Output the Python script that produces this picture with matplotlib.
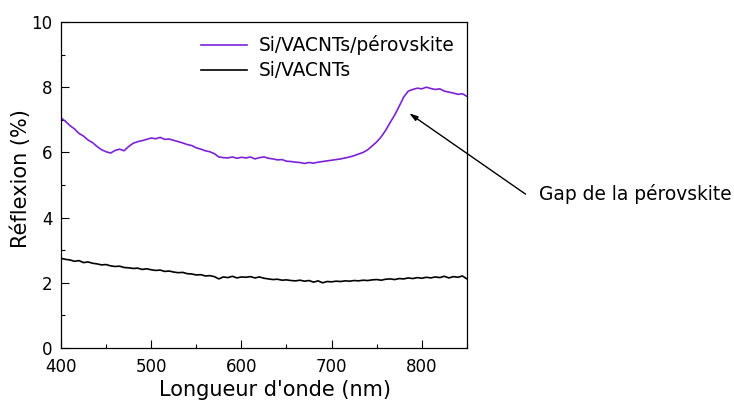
import matplotlib
matplotlib.use('Agg')
import matplotlib.pyplot as plt
import numpy as np
from matplotlib.ticker import MultipleLocator

# longueur d'onde (nm), pas de 5 nm
wl = np.arange(400, 851, 5)

# Si/VACNTs/pérovskite
refl_pero = [7.06, 6.95, 6.82, 6.72, 6.58, 6.50, 6.38, 6.30, 6.18, 6.08,
             6.02, 5.98, 6.06, 6.10, 6.05, 6.18, 6.28, 6.33, 6.36, 6.40,
             6.44, 6.42, 6.46, 6.40, 6.41, 6.37, 6.33, 6.29, 6.24, 6.21,
             6.14, 6.10, 6.05, 6.02, 5.96, 5.86, 5.84, 5.83, 5.86, 5.82,
             5.85, 5.83, 5.86, 5.80, 5.84, 5.86, 5.82, 5.80, 5.77, 5.78,
             5.73, 5.72, 5.70, 5.69, 5.66, 5.69, 5.67, 5.70, 5.72, 5.74,
             5.76, 5.78, 5.80, 5.83, 5.86, 5.90, 5.95, 6.00, 6.08, 6.20,
             6.32, 6.48, 6.68, 6.92, 7.15, 7.42, 7.70, 7.88, 7.93, 7.97,
             7.95, 8.00, 7.96, 7.93, 7.95, 7.88, 7.85, 7.82, 7.78, 7.80,
             7.72]

# Si/VACNTs
refl_cnt = [2.75, 2.72, 2.70, 2.66, 2.68, 2.62, 2.64, 2.60, 2.58, 2.55,
            2.56, 2.52, 2.50, 2.51, 2.47, 2.46, 2.44, 2.45, 2.41, 2.43,
            2.40, 2.38, 2.39, 2.35, 2.36, 2.33, 2.31, 2.32, 2.28, 2.27,
            2.24, 2.25, 2.21, 2.22, 2.19, 2.12, 2.18, 2.16, 2.20, 2.15,
            2.18, 2.17, 2.19, 2.15, 2.18, 2.14, 2.12, 2.10, 2.11, 2.08,
            2.09, 2.07, 2.06, 2.08, 2.05, 2.07, 2.02, 2.06, 2.00, 2.04,
            2.03, 2.05, 2.04, 2.06, 2.05, 2.07, 2.06, 2.08, 2.07, 2.09,
            2.10, 2.08, 2.11, 2.12, 2.10, 2.13, 2.12, 2.15, 2.13, 2.16,
            2.14, 2.17, 2.15, 2.18, 2.16, 2.20, 2.15, 2.19, 2.17, 2.21,
            2.12]

labels = ['Si/VACNTs/pérovskite', 'Si/VACNTs']

fig = plt.figure(figsize=(7.34, 4.05), dpi=100)
ax = fig.add_axes([0.0831, 0.1407, 0.553, 0.805])

ax.plot(wl, refl_pero, color='#7b22d8', lw=1.2, label=labels[0])
ax.plot(wl, refl_cnt, color='black', lw=1.2, label=labels[1])

ax.set_xlim(400, 850)
ax.set_ylim(0, 10)
ax.xaxis.set_major_locator(MultipleLocator(100))
ax.xaxis.set_minor_locator(MultipleLocator(50))
ax.yaxis.set_major_locator(MultipleLocator(2))
ax.yaxis.set_minor_locator(MultipleLocator(1))
ax.tick_params(which='both', direction='in', labelsize=12, width=0.8)
ax.tick_params(which='major', length=6, pad=6)
ax.tick_params(axis='x', which='major', pad=7)
ax.tick_params(which='minor', length=3)
for s in ax.spines.values():
    s.set_linewidth(0.9)

ax.set_xlabel("Longueur d'onde (nm)", fontsize=15)
ax.set_ylabel('Réflexion (%)', fontsize=15)
ax.xaxis.set_label_coords(0.527, -0.098)
ax.yaxis.set_label_coords(-0.074, 0.52)

ax.legend(loc='upper right', bbox_to_anchor=(1.01, 1.01), frameon=False,
          fontsize=13.4, handlelength=2.5, handletextpad=0.6, labelspacing=0.3)

# flèche + texte du gap
ax.annotate('', xy=(786, 7.2), xytext=(915, 4.72), annotation_clip=False,
            arrowprops=dict(arrowstyle='-|>,head_width=0.15,head_length=0.5',
                            color='black', lw=1, shrinkA=0, shrinkB=0))
ax.text(930, 4.72, 'Gap de la pérovskite', fontsize=13.4, ha='left',
        va='center', clip_on=False)

plt.savefig('out.png', dpi=100)
